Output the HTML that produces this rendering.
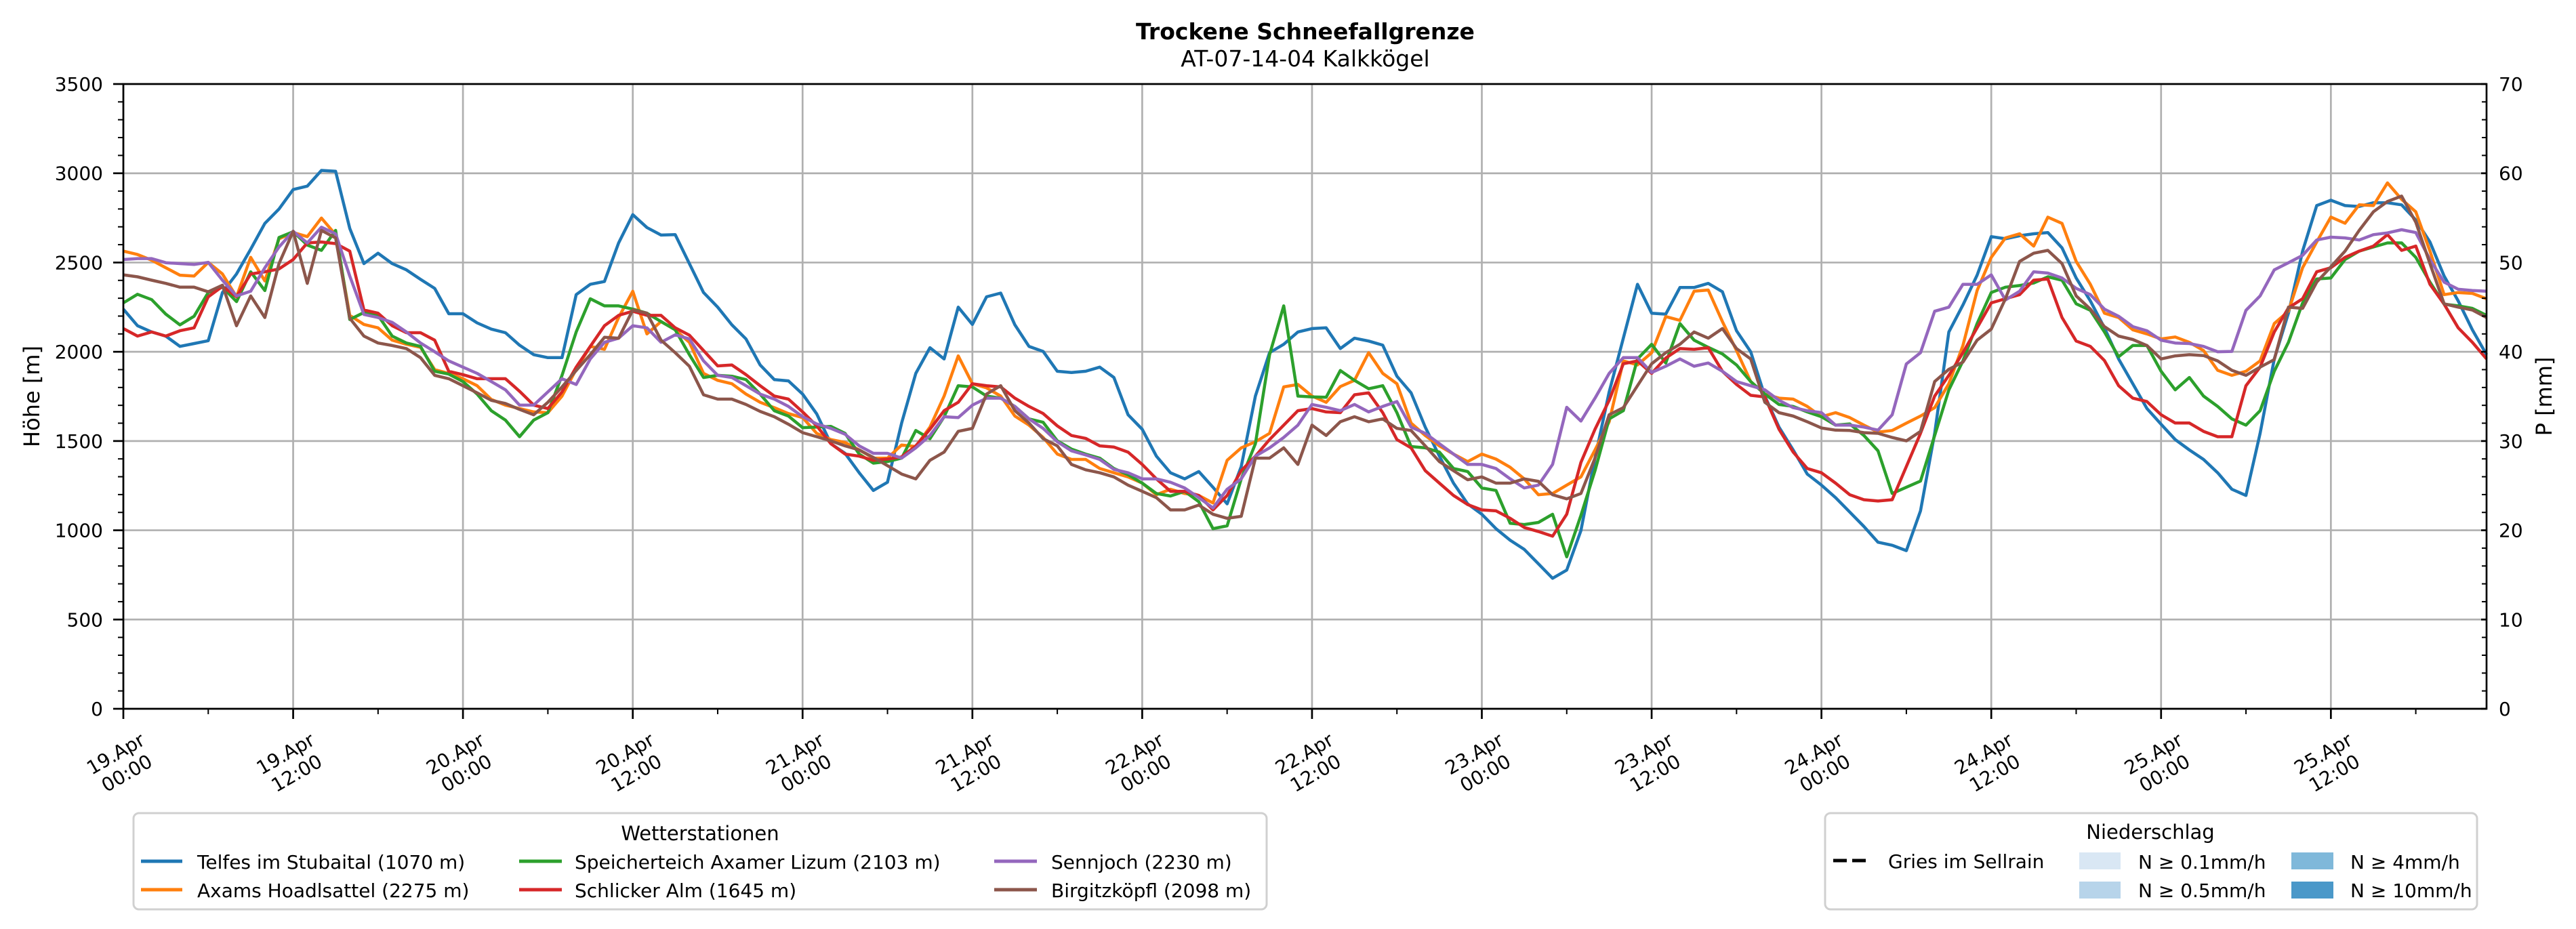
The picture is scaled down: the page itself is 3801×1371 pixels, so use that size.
<!DOCTYPE html>
<html><head><meta charset="utf-8"><style>
html,body{margin:0;padding:0;background:#fff;}
svg{display:block;font-family:"DejaVu Sans","Liberation Sans",sans-serif;}
</style></head><body>
<svg id="chart" width="3801" height="1371" viewBox="0 0 3801 1371" xmlns="http://www.w3.org/2000/svg">
<rect x="0" y="0" width="3801" height="1371" fill="#fff"/>
<text x="1926" y="58" text-anchor="middle" font-size="33" font-weight="bold">Trockene Schneefallgrenze</text>
<text x="1926" y="98" text-anchor="middle" font-size="33">AT-07-14-04 Kalkkögel</text>
<g id="grid"></g>
<g id="series"></g>
<g id="axes"></g>
<text transform="translate(58,585) rotate(-90)" text-anchor="middle" font-size="32">Höhe [m]</text>
<text transform="translate(3765,585) rotate(-90)" text-anchor="middle" font-size="32">P [mm]</text>

<g>
<rect x="197" y="1200" width="1672" height="142" rx="8" fill="#fff" stroke="#d0d0d0" stroke-width="3"/>
<text x="1033" y="1240" text-anchor="middle" font-size="29">Wetterstationen</text>
<line x1="208" y1="1271" x2="269" y2="1271" stroke="#1f77b4" stroke-width="5"/>
<text x="291" y="1282" font-size="28">Telfes im Stubaital (1070 m)</text>
<line x1="208" y1="1313" x2="269" y2="1313" stroke="#ff7f0e" stroke-width="5"/>
<text x="291" y="1324" font-size="28">Axams Hoadlsattel (2275 m)</text>
<line x1="766" y1="1271" x2="829" y2="1271" stroke="#2ca02c" stroke-width="5"/>
<text x="848" y="1282" font-size="28">Speicherteich Axamer Lizum (2103 m)</text>
<line x1="766" y1="1313" x2="829" y2="1313" stroke="#d62728" stroke-width="5"/>
<text x="848" y="1324" font-size="28">Schlicker Alm (1645 m)</text>
<line x1="1467" y1="1271" x2="1530" y2="1271" stroke="#9467bd" stroke-width="5"/>
<text x="1551" y="1282" font-size="28">Sennjoch (2230 m)</text>
<line x1="1467" y1="1313" x2="1530" y2="1313" stroke="#8c564b" stroke-width="5"/>
<text x="1551" y="1324" font-size="28">Birgitzköpfl (2098 m)</text>
</g>

<g>
<rect x="2693" y="1200" width="962" height="142" rx="8" fill="#fff" stroke="#d0d0d0" stroke-width="3"/>
<text x="3173" y="1238" text-anchor="middle" font-size="29">Niederschlag</text>
<line x1="2705" y1="1270" x2="2760" y2="1270" stroke="#000" stroke-width="5" stroke-dasharray="20,8"/>
<text x="2786" y="1281" font-size="28">Gries im Sellrain</text>
<rect x="3068" y="1258" width="61" height="25" fill="#d9e7f4"/>
<text x="3155" y="1282" font-size="28">N ≥ 0.1mm/h</text>
<rect x="3068" y="1301" width="61" height="25" fill="#b7d4ea"/>
<text x="3155" y="1324" font-size="28">N ≥ 0.5mm/h</text>
<rect x="3381" y="1258" width="62" height="25" fill="#7fb8da"/>
<text x="3468" y="1282" font-size="28">N ≥ 4mm/h</text>
<rect x="3381" y="1301" width="62" height="25" fill="#4a98c9"/>
<text x="3468" y="1324" font-size="28">N ≥ 10mm/h</text>
</g>
</svg>
<script>
const telfes=[2239,2146,2111,2088,2030,2046,2062,2332,2436,2575,2719,2800,2909,2928,3016,3011,2691,2494,2552,2494,2459,2406,2355,2213,2213,2162,2127,2107,2037,1984,1967,1967,2320,2378,2394,2610,2768,2696,2654,2656,2494,2332,2250,
2151,2072,1926,1844,1837,1763,1652,1485,1431,1322,1223,1269,1601,1879,2023,1960,2250,2153,2308,2329,2151,2030,2002,1891,1884,1891,1914,1856,1647,1566,1415,1322,1288,1329,1241,1148,1357,1752,1995,2042,2111,2130,
2134,2018,2076,2060,2037,1863,1770,1578,1415,1264,1148,1090,1009,944,893,812,731,777,998,1404,1775,2076,2378,2216,2211,2360,2360,2383,2336,2118,2000,1752,1578,1450,1315,1253,1183,1102,1021,933,916,886,
1109,1543,2111,2262,2429,2645,2633,2650,2661,2668,2582,2413,2285,2134,1960,1821,1682,1594,1508,1450,1397,1322,1230,1195,1543,1960,2216,2564,2819,2849,2819,2814,2835,2835,2823,2738,2615,2424,2285,2123,1984];
const axams=[2564,2545,2513,2471,2429,2424,2501,2436,2308,2529,2397,2633,2668,2645,2749,2656,2204,2153,2134,2065,2042,2025,1900,1879,1849,1810,1733,1701,1682,1663,1659,1752,1902,2030,2014,2192,2339,2100,2169,2123,2053,1879,1840,
1821,1763,1717,1687,1654,1631,1543,1508,1492,1450,1404,1404,1478,1469,1578,1752,1977,1821,1798,1752,1640,1589,1520,1427,1397,1397,1346,1322,1299,1264,1199,1230,1206,1195,1153,1392,1462,1496,1543,1803,1817,1752,
1717,1805,1840,1995,1879,1821,1601,1531,1473,1427,1385,1427,1399,1353,1288,1199,1206,1253,1299,1450,1608,1949,1926,1995,2197,2176,2339,2346,2169,2007,1833,1763,1740,1735,1694,1636,1659,1631,1589,1550,1559,1600,
1640,1687,1821,2035,2343,2529,2638,2661,2592,2754,2719,2506,2378,2216,2192,2123,2100,2072,2083,2053,2007,1896,1868,1891,1949,2158,2227,2471,2615,2755,2720,2823,2819,2946,2854,2784,2564,2320,2332,2327,2297];
const speicherteich=[2274,2322,2292,2211,2151,2199,2332,2362,2281,2448,2343,2640,2673,2598,2568,2680,2181,2220,2204,2088,2049,2030,1891,1875,1833,1763,1670,1617,1524,1617,1659,1868,2111,2297,2257,2257,2239,2216,2169,2123,1984,1856,1868,
1863,1844,1763,1670,1640,1575,1578,1582,1543,1427,1376,1385,1404,1559,1513,1636,1810,1803,1752,1740,1694,1624,1605,1501,1455,1427,1404,1346,1311,1264,1206,1192,1218,1160,1009,1025,1288,1485,1984,2257,1752,1747,
1745,1895,1840,1793,1810,1659,1469,1462,1438,1346,1329,1237,1223,1039,1032,1044,1090,851,1083,1334,1624,1670,1960,2042,1937,2158,2065,2025,1988,1926,1833,1763,1705,1694,1663,1636,1589,1596,1531,1445,1206,1241,
1276,1531,1786,1949,2158,2332,2362,2371,2385,2420,2401,2269,2232,2111,1972,2035,2035,1891,1787,1856,1752,1694,1624,1589,1670,1891,2053,2274,2408,2413,2517,2564,2587,2610,2610,2529,2390,2267,2257,2243,2204];
const schlicker=[2130,2088,2111,2088,2118,2134,2308,2366,2308,2436,2448,2464,2517,2610,2615,2606,2564,2234,2216,2146,2107,2107,2065,1891,1872,1849,1849,1849,1779,1701,1682,1775,1914,2030,2146,2204,2227,2204,2204,2134,2093,2007,1921,
1926,1872,1810,1752,1735,1663,1585,1485,1427,1415,1392,1399,1411,1473,1566,1670,1717,1821,1810,1803,1740,1694,1654,1585,1531,1515,1473,1466,1438,1369,1288,1218,1218,1195,1114,1195,1334,1415,1508,1589,1670,1682,
1663,1659,1759,1770,1659,1508,1462,1334,1264,1195,1144,1114,1109,1067,1016,993,967,1090,1380,1566,1728,1933,1949,1879,1965,2018,2014,2023,1891,1817,1756,1747,1566,1438,1346,1322,1264,1199,1171,1164,1171,1357,
1543,1752,1868,1995,2134,2274,2297,2320,2401,2408,2192,2060,2030,1951,1810,1740,1721,1647,1601,1601,1554,1524,1524,1810,1914,2111,2246,2297,2448,2471,2529,2564,2592,2656,2568,2592,2378,2267,2134,2053,1960];
const sennjoch=[2517,2522,2522,2499,2494,2489,2501,2401,2313,2339,2471,2587,2675,2610,2698,2661,2424,2209,2192,2165,2111,2049,2000,1949,1914,1879,1833,1787,1701,1701,1775,1849,1817,1960,2053,2076,2146,2134,2053,2095,2072,1949,1868,
1856,1810,1763,1735,1694,1636,1596,1571,1538,1473,1431,1431,1404,1462,1531,1636,1631,1701,1740,1740,1694,1624,1571,1496,1445,1422,1397,1341,1322,1288,1288,1269,1237,1183,1125,1230,1288,1415,1462,1520,1589,1705,
1689,1670,1705,1663,1694,1721,1578,1543,1485,1427,1369,1369,1346,1288,1237,1253,1369,1689,1612,1740,1879,1967,1967,1884,1919,1960,1919,1937,1891,1833,1810,1787,1728,1687,1670,1659,1589,1589,1578,1561,1647,1932,
1995,2227,2250,2378,2378,2431,2290,2339,2448,2441,2413,2355,2320,2239,2199,2141,2118,2065,2049,2046,2030,2000,2002,2232,2313,2459,2499,2540,2626,2642,2638,2626,2656,2666,2684,2668,2517,2390,2350,2343,2339];
const birgitz=[2431,2420,2401,2383,2362,2362,2336,2373,2146,2313,2192,2494,2675,2383,2680,2638,2188,2088,2049,2035,2018,1967,1868,1849,1810,1770,1728,1710,1677,1647,1717,1803,1895,1984,2081,2076,2234,2216,2065,1995,1919,1759,1735,
1735,1705,1666,1636,1594,1547,1524,1501,1473,1450,1408,1362,1315,1288,1392,1438,1554,1571,1763,1810,1670,1601,1513,1473,1369,1339,1322,1299,1253,1218,1183,1114,1114,1141,1090,1067,1078,1404,1404,1462,1369,1589,
1531,1608,1636,1608,1624,1571,1559,1473,1385,1334,1283,1299,1264,1264,1288,1274,1199,1176,1206,1404,1647,1687,1810,1933,1995,2042,2111,2076,2130,2018,1960,1717,1659,1640,1608,1573,1561,1559,1547,1543,1520,1501,
1554,1833,1902,1942,2065,2127,2297,2506,2552,2568,2494,2313,2239,2141,2088,2069,2035,1960,1977,1984,1979,1949,1896,1868,1914,1956,2250,2243,2390,2476,2564,2680,2784,2842,2872,2726,2494,2269,2250,2234,2192];
const seriesNames=['telfes','axams','speicherteich','schlicker','sennjoch','birgitzkoepfl'];
const seriesColors=['#1f77b4','#ff7f0e','#2ca02c','#d62728','#9467bd','#8c564b'];
const xTickLabelsDay=['19.Apr','19.Apr','20.Apr','20.Apr','21.Apr','21.Apr','22.Apr','22.Apr','23.Apr','23.Apr','24.Apr','24.Apr','25.Apr','25.Apr'];
const xTickLabelsTime=['00:00','12:00','00:00','12:00','00:00','12:00','00:00','12:00','00:00','12:00','00:00','12:00','00:00','12:00'];
const yTicks=[0,500,1000,1500,2000,2500,3000,3500];
const y2Ticks=[0,10,20,30,40,50,60,70];

const NS='http://www.w3.org/2000/svg';
const L=182,R=3669,T=124,B=1046,TMAX=167,YMAX=3500,Y2MAX=70;
const xs=t=>L+(R-L)*t/TMAX;
const ys=v=>B-(B-T)*v/YMAX;
const ys2=v=>B-(B-T)*v/Y2MAX;
function mk(tag,attrs,parent){const e=document.createElementNS(NS,tag);for(const k in attrs)e.setAttribute(k,attrs[k]);parent.appendChild(e);return e;}
const grid=document.getElementById('grid'),axes=document.getElementById('axes'),ser=document.getElementById('series');

yTicks.forEach(v=>{
  const g=mk('line',{x1:L,x2:R,y1:ys(v),y2:ys(v),stroke:'#b0b0b0','stroke-width':2.7},grid);
  
  
});
xTickLabelsDay.forEach((d,i)=>{
  const x=xs(i*12);
  const g=mk('line',{x1:x,x2:x,y1:T,y2:B,stroke:'#b0b0b0','stroke-width':2.7},grid);
  
  
});

const data=[telfes,axams,speicherteich,schlicker,sennjoch,birgitz];
data.forEach((arr,si)=>{
  const pts=arr.map((v,t)=>xs(t).toFixed(1)+','+ys(v).toFixed(1)).join(' ');
  const p=mk('polyline',{points:pts,fill:'none',stroke:seriesColors[si],'stroke-width':4.5,'stroke-linejoin':'round'},ser);
  
  
});

// spines
mk('rect',{x:L,y:T,width:R-L,height:B-T,fill:'none',stroke:'#000','stroke-width':2.7},axes);
// left ticks
for(let v=0;v<=YMAX;v+=100){
  const major=v%500===0;
  mk('line',{x1:L-(major?15:8),x2:L,y1:ys(v),y2:ys(v),stroke:'#000','stroke-width':major?2.7:2},axes);
}
yTicks.forEach(v=>{
  const t=mk('text',{x:152,y:ys(v)+10,'text-anchor':'end','font-size':28},axes);
  t.textContent=v;
  
  
});
// right ticks (inward)
for(let v=0;v<=Y2MAX;v+=2){
  const major=v%10===0;
  mk('line',{x1:R-(major?8:7),x2:R,y1:ys2(v),y2:ys2(v),stroke:'#000','stroke-width':major?2.7:2},axes);
}
y2Ticks.forEach(v=>{
  const t=mk('text',{x:3687,y:ys2(v)+10,'text-anchor':'start','font-size':28},axes);
  t.textContent=v;
  
  
});
// x ticks
for(let h=0;h<=TMAX;h+=6){
  const major=h%12===0;
  mk('line',{x1:xs(h),x2:xs(h),y1:B,y2:B+(major?15:8),stroke:'#000','stroke-width':major?2.7:2},axes);
}
xTickLabelsDay.forEach((d,i)=>{
  const x=xs(i*12);
  const t=mk('text',{transform:'translate('+(x-3)+',1127) rotate(-30)','text-anchor':'middle','font-size':28},axes);
  
  
  const a=mk('tspan',{x:0,y:-7},t);a.textContent=d;
  const b=mk('tspan',{x:0,y:26},t);b.textContent=xTickLabelsTime[i];
});
</script>
</body></html>
